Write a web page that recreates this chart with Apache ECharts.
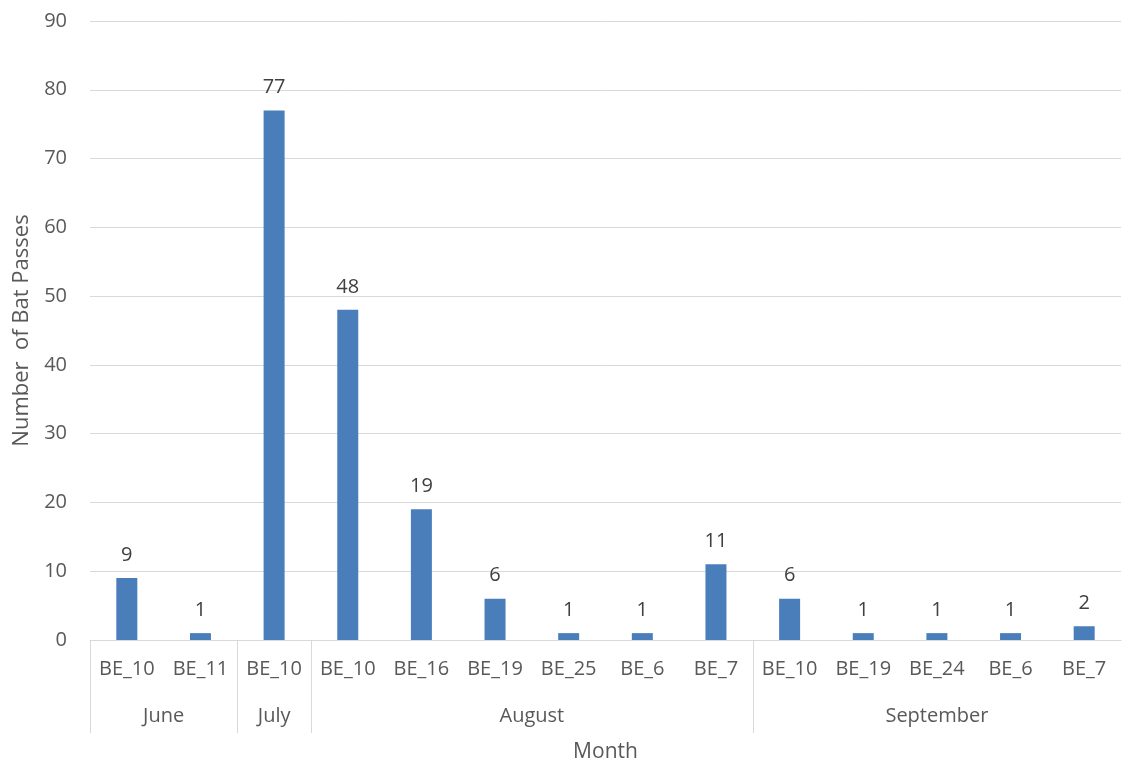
<!DOCTYPE html>
<html>
<head>
<meta charset="utf-8">
<script src="https://cdn.jsdelivr.net/npm/echarts@6/dist/echarts.min.js"></script>
<style>
  html, body { margin: 0; padding: 0; background: #fff; }
  #chart { width: 1128px; height: 767px; }
</style>
</head>
<body>
<div id="chart"></div>
<script>
// Detector sites per month, in plotting order
const sites = ['BE_10', 'BE_11', 'BE_10', 'BE_10', 'BE_16', 'BE_19', 'BE_25', 'BE_6', 'BE_7',
               'BE_10', 'BE_19', 'BE_24', 'BE_6', 'BE_7'];
const passes = [9, 1, 77, 48, 19, 6, 1, 1, 11, 6, 1, 1, 1, 2];

// Month groups: name and number of sites in each
const months = ['June', 'July', 'August', 'September'];
const monthSizes = [2, 1, 6, 5];

const yTicks = { min: 0, max: 90, interval: 10 };

// Group boundaries and centres along a 0..N continuous scale
const boundaries = [0];
const centres = [];
monthSizes.forEach(n => {
  const start = boundaries[boundaries.length - 1];
  centres.push(start + n / 2);
  boundaries.push(start + n);
});
// Only interior separators and the left edge are drawn
const separatorTicks = boundaries.slice(0, -1);

const FONT = '"Open Sans", "Noto Sans", sans-serif';
const GRAY = '#d9d9d9';
const TEXT = '#595959';

const chart = echarts.init(document.getElementById('chart'), null, { renderer: 'canvas' });

chart.setOption({
  animation: false,
  backgroundColor: '#ffffff',
  grid: { left: 90, right: 7, top: 21, bottom: 127, containLabel: false, outerBoundsMode: 'none' },
  xAxis: [
    {
      type: 'category',
      data: sites,
      position: 'bottom',
      axisLine: { show: true, lineStyle: { color: GRAY, width: 1 } },
      axisTick: { show: false },
      axisLabel: { color: TEXT, fontFamily: FONT, fontSize: 20, margin: 19, interval: 0 },
      name: 'Month',
      nameLocation: 'middle',
      nameGap: 102,
      nameTextStyle: { color: TEXT, fontFamily: FONT, fontSize: 21 }
    },
    {
      type: 'value',
      min: 0,
      max: sites.length,
      position: 'bottom',
      axisLine: { show: false },
      splitLine: { show: false },
      axisTick: {
        show: true,
        customValues: separatorTicks,
        length: 93,
        lineStyle: { color: GRAY, width: 1 }
      },
      axisLabel: {
        show: true,
        customValues: centres,
        margin: 66,
        color: TEXT,
        fontFamily: FONT,
        fontSize: 20,
        formatter: v => {
          const i = centres.indexOf(v);
          return i >= 0 ? months[i] : '';
        }
      }
    }
  ],
  yAxis: {
    type: 'value',
    min: yTicks.min,
    max: yTicks.max,
    interval: yTicks.interval,
    axisLine: { show: false },
    axisTick: { show: false },
    splitLine: { lineStyle: { color: GRAY, width: 1 } },
    axisLabel: { color: TEXT, fontFamily: FONT, fontSize: 20, margin: 23 },
    name: 'Number  of Bat Passes',
    nameLocation: 'middle',
    nameGap: 56,
    nameRotate: 90,
    nameTextStyle: { color: TEXT, fontFamily: FONT, fontSize: 22 }
  },
  series: [
    {
      type: 'bar',
      xAxisIndex: 0,
      data: passes,
      barWidth: 21,
      itemStyle: { color: '#4a7ebb' },
      label: {
        show: true,
        position: 'top',
        distance: 13,
        color: '#404040',
        fontFamily: FONT,
        fontSize: 20
      }
    }
  ]
});
</script>
</body>
</html>
